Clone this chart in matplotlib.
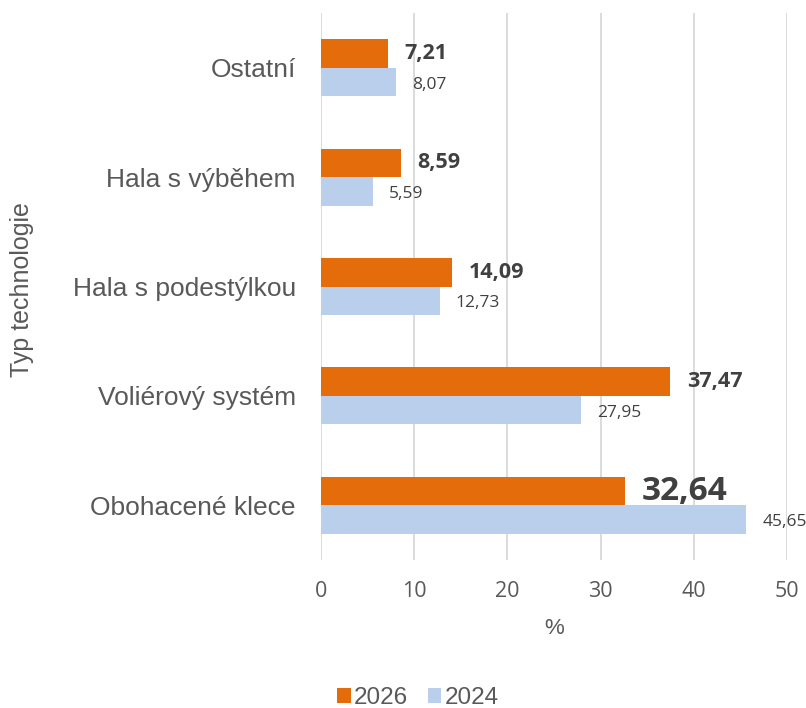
import matplotlib
matplotlib.use("Agg")
import matplotlib.pyplot as plt
import numpy as np

categories = ["Ostatní", "Hala s výběhem", "Hala s podestýlkou", "Voliérový systém", "Obohacené klece"]
values_2026 = [7.21, 8.59, 14.09, 37.47, 32.64]
values_2024 = [8.07, 5.59, 12.73, 27.95, 45.65]
labels_2026 = ["7,21", "8,59", "14,09", "37,47", "32,64"]
labels_2024 = ["8,07", "5,59", "12,73", "27,95", "45,65"]
xticks = [0, 10, 20, 30, 40, 50]

orange = "#E46C0A"
blue = "#B9CFEC"
gray = "#595959"
dark = "#404040"

fig = plt.figure(figsize=(8.06, 7.08), dpi=100)
ax = fig.add_axes([321/806, 1-560/708, (787-321)/806, (560-13)/708])

n = len(categories)
y = np.arange(n)
h = 0.26
ax.barh(y - h/2, values_2026, height=h, color=orange, label="2026", zorder=3)
ax.barh(y + h/2, values_2024, height=h, color=blue, label="2024", zorder=3)

ax.set_xlim(0, 50)
ax.set_ylim(n - 0.5, -0.5)
ax.set_xticks(xticks)
ax.set_xticklabels([str(t) for t in xticks], fontsize=15.5, color=gray, family="Open Sans")
ax.set_yticks(y)
ax.set_yticklabels(categories, fontsize=19, color=gray, family="Liberation Sans")
ax.tick_params(axis="both", length=0)
ax.tick_params(axis="x", pad=15)
ax.tick_params(axis="y", pad=18)
ax.grid(axis="x", color="#D9D9D9", linewidth=1.3, zorder=0)
for s in ax.spines.values():
    s.set_visible(False)

for i in range(n):
    size = 24 if i == n - 1 else 15.5
    ax.annotate(labels_2026[i], (values_2026[i], y[i] - h/2), xytext=(12, 0), textcoords="offset points",
                ha="left", va="center", fontsize=size, fontweight="bold", color=dark, family="Open Sans")
    ax.annotate(labels_2024[i], (values_2024[i], y[i] + h/2), xytext=(11.5, -2), textcoords="offset points",
                ha="left", va="center", fontsize=12.5, color=dark, family="Open Sans")

ax.set_xlabel("%", fontsize=16, color=gray, family="Liberation Sans", labelpad=12)
fig.text(22/806, 1-290/708, "Typ technologie", rotation=90, ha="center", va="center",
         fontsize=18, color=gray, family="Liberation Sans")

handles, lbls = ax.get_legend_handles_labels()
fig.legend(handles, lbls, loc="center", bbox_to_anchor=(418/806, 1-698/708), ncol=2, frameon=False,
           prop={"family": "Liberation Sans", "size": 17.5}, labelcolor=gray,
           handlelength=0.55, handleheight=0.55, handletextpad=0.15, columnspacing=0.8)

fig.savefig("out.png", dpi=100)
